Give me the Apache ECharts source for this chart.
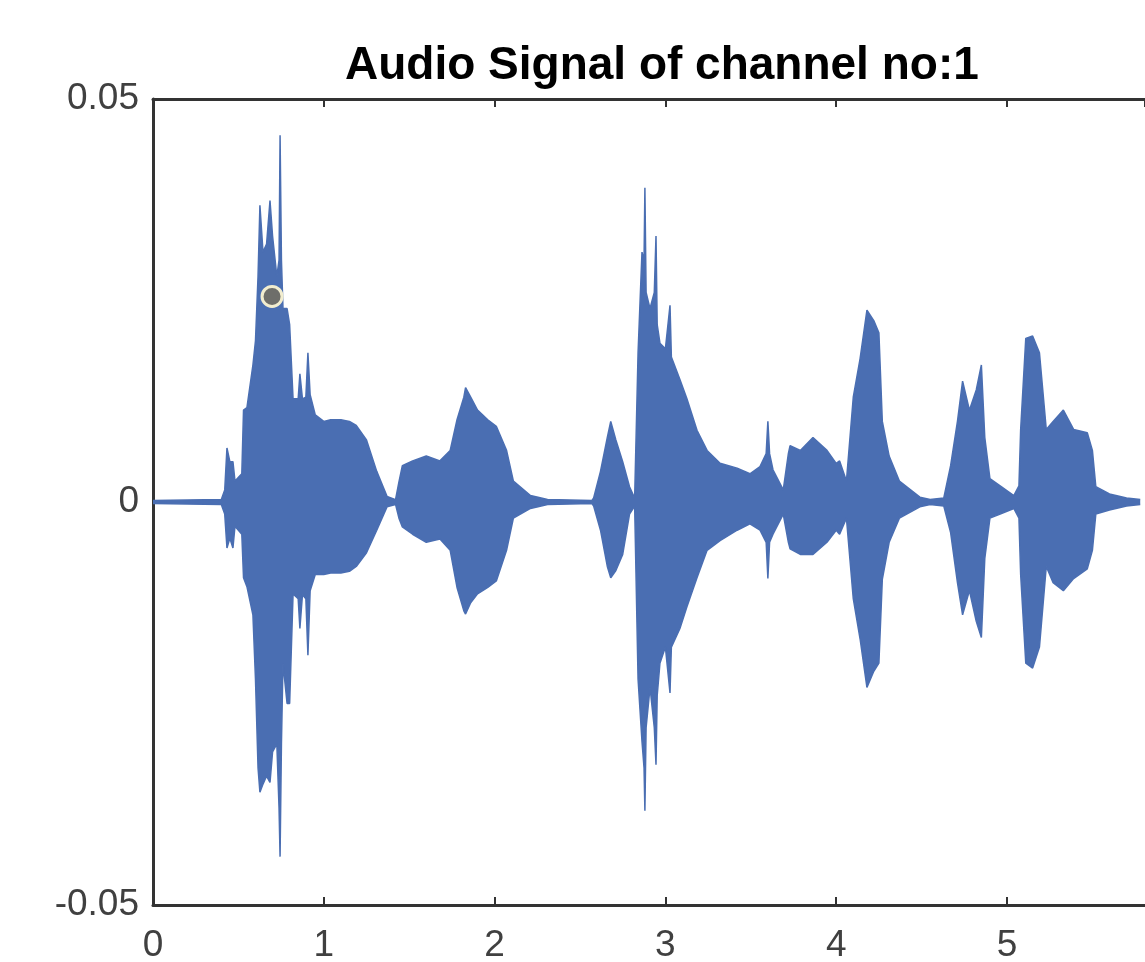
<!DOCTYPE html>
<html>
<head>
<meta charset="utf-8">
<script src="https://cdn.jsdelivr.net/npm/echarts@6/dist/echarts.min.js"></script>
<style>
  html, body { margin: 0; padding: 0; background: #fff; }
  #chart { width: 1145px; height: 962px; }
</style>
</head>
<body>
<div id="chart"></div>
<script>
// envelope of the waveform (time in s)
var timeSec = [
  0, 0.40, 0.42, 0.433, 0.45, 0.468, 0.48, 0.52, 0.53, 0.55,
  0.585, 0.60, 0.615, 0.626, 0.644, 0.665, 0.685, 0.70, 0.725, 0.738,
  0.744, 0.752, 0.761, 0.785, 0.80, 0.82, 0.85, 0.86, 0.875, 0.895,
  0.907, 0.92, 0.95, 1.00, 1.04, 1.10, 1.15, 1.19, 1.25, 1.31,
  1.37, 1.42,
  1.44, 1.46, 1.52, 1.60, 1.68, 1.74, 1.78, 1.82, 1.83, 1.86,
  1.90, 1.96, 2.01, 2.07, 2.11, 2.21, 2.31, 2.57,
  2.58, 2.62, 2.66, 2.68, 2.71, 2.75, 2.79, 2.82, 2.84, 2.863,
  2.875, 2.88, 2.887, 2.91, 2.935, 2.945, 2.952, 2.968, 3.00, 3.027,
  3.035, 3.044, 3.085, 3.126, 3.185, 3.244, 3.32, 3.42, 3.495, 3.554,
  3.59, 3.60, 3.61, 3.63, 3.69, 3.72, 3.73, 3.79, 3.864, 3.946,
  4.00, 4.02, 4.06,
  4.10, 4.14, 4.18, 4.22, 4.25, 4.27, 4.31, 4.37, 4.49, 4.55,
  4.63, 4.67, 4.71, 4.74, 4.78, 4.82, 4.85, 4.87, 4.90, 4.96,
  5.04, 5.07, 5.08, 5.11, 5.15, 5.19, 5.23, 5.27, 5.33, 5.39,
  5.47, 5.50, 5.52, 5.60, 5.70, 5.78
]
var upperEnv = [
  0.0002, 0.0003, 0.0015, 0.0067, 0.0050, 0.0050, 0.0026, 0.0035, 0.0114, 0.0117,
  0.0170, 0.0200, 0.0280, 0.0368, 0.0310, 0.0320, 0.0374, 0.0330, 0.0280, 0.0300,
  0.0455, 0.0300, 0.0240, 0.0240, 0.0220, 0.0128, 0.0128, 0.0159, 0.0128, 0.0130,
  0.0185, 0.0133, 0.0108, 0.0100, 0.0102, 0.0102, 0.0100, 0.0095, 0.0077, 0.0038,
  0.0007, 0.0003,
  0.0025, 0.0045, 0.0051, 0.0057, 0.0051, 0.0064, 0.0102, 0.0130, 0.0142, 0.0130,
  0.0114, 0.0102, 0.0094, 0.0064, 0.0026, 0.0008, 0.0003, 0.0002,
  0.0005, 0.0038, 0.0080, 0.0100, 0.0077, 0.0050, 0.0019, 0.0005, 0.0185, 0.0310,
  0.0300, 0.0390, 0.0260, 0.0240, 0.0260, 0.0330, 0.0220, 0.0197, 0.0190, 0.0244,
  0.0180, 0.0180, 0.0152, 0.0128, 0.0089, 0.0064, 0.0048, 0.0042, 0.0035, 0.0044,
  0.0060, 0.0100, 0.0060, 0.0040, 0.0015, 0.0060, 0.0070, 0.0064, 0.0080, 0.0064,
  0.0048, 0.0051, 0.0026,
  0.0130, 0.0178, 0.0238, 0.0225, 0.0210, 0.0100, 0.0057, 0.0026, 0.0006, 0.0003,
  0.0005, 0.0045, 0.0100, 0.0150, 0.0114, 0.0139, 0.0170, 0.0080, 0.0029, 0.0020,
  0.0008, 0.0020, 0.0090, 0.0203, 0.0206, 0.0185, 0.0090, 0.0100, 0.0114, 0.0090,
  0.0086, 0.0064, 0.0019, 0.0010, 0.0005, 0.0003
]
var lowerEnv = [
  -0.0002, -0.0003, -0.0015, -0.0057, -0.0045, -0.0057, -0.0030, -0.0040, -0.0094, -0.0105,
  -0.0140, -0.0220, -0.0330, -0.0360, -0.0350, -0.0340, -0.0348, -0.0310, -0.0300, -0.0380,
  -0.0440, -0.0300, -0.0200, -0.0250, -0.0250, -0.0114, -0.0120, -0.0157, -0.0115, -0.0120,
  -0.0190, -0.0110, -0.0090, -0.0090, -0.0088, -0.0088, -0.0086, -0.0080, -0.0063, -0.0035,
  -0.0006, -0.0003,
  -0.0020, -0.0031, -0.0040, -0.0050, -0.0046, -0.0060, -0.0106, -0.0135, -0.0139, -0.0125,
  -0.0114, -0.0106, -0.0098, -0.0060, -0.0020, -0.0008, -0.0003, -0.0002,
  -0.0005, -0.0035, -0.0080, -0.0094, -0.0085, -0.0065, -0.0015, -0.0005, -0.0220, -0.0297,
  -0.0330, -0.0383, -0.0280, -0.0230, -0.0280, -0.0326, -0.0240, -0.0200, -0.0180, -0.0237,
  -0.0180, -0.0180, -0.0157, -0.0130, -0.0094, -0.0060, -0.0048, -0.0035, -0.0027, -0.0035,
  -0.0050, -0.0095, -0.0050, -0.0040, -0.0015, -0.0050, -0.0058, -0.0065, -0.0065, -0.0050,
  -0.0035, -0.0040, -0.0020,
  -0.0120, -0.0170, -0.0230, -0.0210, -0.0200, -0.0096, -0.0050, -0.0020, -0.0006, -0.0003,
  -0.0005, -0.0038, -0.0100, -0.0140, -0.0110, -0.0148, -0.0168, -0.0070, -0.0020, -0.0015,
  -0.0008, -0.0020, -0.0090, -0.0200, -0.0206, -0.0180, -0.0080, -0.0100, -0.0110, -0.0095,
  -0.0083, -0.0060, -0.0015, -0.0010, -0.0005, -0.0003
]
// data tip marker
var tipPoint = [0.697, 0.0255]
// visible part of the time axis (the plot is cut at the right edge)
var xMin = 0
var xMax = 5.808

var waveColor = '#4a6eb2'
var axisColor = '#333333'
var labelFont = 'Liberation Sans, Arial, sans-serif'

var chart = echarts.init(document.getElementById('chart'))

var upperData = timeSec.map(function (t, i) { return [t, upperEnv[i]] })
var lowerData = timeSec.map(function (t, i) { return [t, lowerEnv[i]] })

var option = {
  animation: false,
  backgroundColor: '#fff',
  title: {
    text: 'Audio Signal of channel no:1',
    left: 345,
    top: 43,
    padding: 0,
    textStyle: {
      fontFamily: labelFont,
      fontWeight: 'bold',
      fontSize: 46,
      color: '#000'
    }
  },
  grid: {
    left: 153,
    top: 99,
    right: 0,
    bottom: 57,
    outerBoundsMode: 'none'
  },
  xAxis: [{
    type: 'value',
    min: xMin,
    max: xMax,
    interval: 1,
    axisLine: { show: true, onZero: false, lineStyle: { color: axisColor, width: 3 } },
    axisTick: { show: true, inside: true, length: 8, lineStyle: { color: axisColor, width: 2 } },
    axisLabel: {
      margin: 22,
      showMaxLabel: false,
      fontFamily: labelFont,
      fontSize: 37,
      color: '#404040'
    },
    splitLine: { show: false }
  }, {
    type: 'value',
    position: 'top',
    min: xMin,
    max: xMax,
    interval: 1,
    axisLine: { show: true, onZero: false, lineStyle: { color: axisColor, width: 3 } },
    axisTick: { show: true, inside: true, length: 8, lineStyle: { color: axisColor, width: 2 } },
    axisLabel: { show: false },
    splitLine: { show: false }
  }],
  yAxis: {
    type: 'value',
    min: -0.05,
    max: 0.05,
    interval: 0.05,
    axisLine: { show: true, onZero: false, lineStyle: { color: axisColor, width: 3 } },
    axisTick: { show: true, inside: true, length: 8, lineStyle: { color: axisColor, width: 2 } },
    axisLabel: {
      margin: 14,
      fontFamily: labelFont,
      fontSize: 37,
      color: '#404040'
    },
    splitLine: { show: false }
  },
  series: [{
    name: 'upper',
    type: 'line',
    data: upperData,
    showSymbol: false,
    lineStyle: { color: waveColor, width: 1.5 },
    areaStyle: { color: waveColor, opacity: 1, origin: 0 },
    z: 2
  }, {
    name: 'lower',
    type: 'line',
    data: lowerData,
    showSymbol: false,
    lineStyle: { color: waveColor, width: 1.5 },
    areaStyle: { color: waveColor, opacity: 1, origin: 0 },
    z: 2
  }, {
    name: 'tip',
    type: 'scatter',
    data: [tipPoint],
    symbolSize: 20,
    itemStyle: {
      color: '#6e6e6a',
      borderColor: '#f2edcf',
      borderWidth: 3,
      opacity: 1
    },
    z: 5
  }]
}

chart.setOption(option)
</script>
</body>
</html>
